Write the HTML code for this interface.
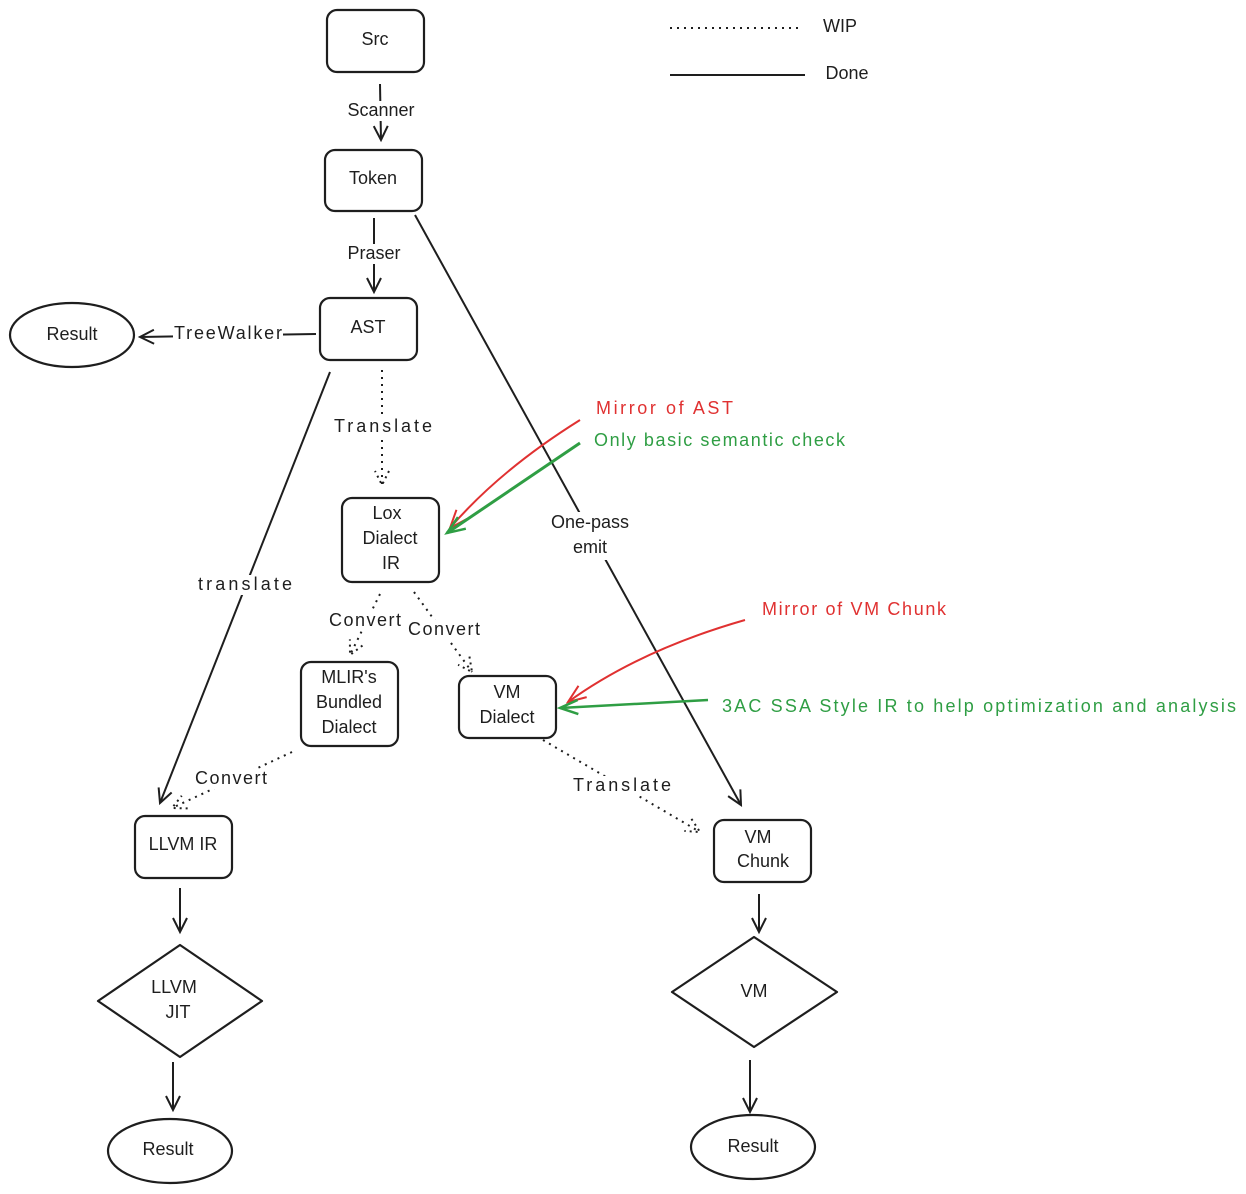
<!DOCTYPE html>
<html><head><meta charset="utf-8"><style>
html,body{margin:0;padding:0;background:#fff;}
svg{display:block;}
text{font-family:"Liberation Sans",sans-serif;font-size:18px;fill:#1e1e1e;text-anchor:middle;dominant-baseline:middle;}
.r{fill:#e03131;text-anchor:start;}
.g{fill:#2f9e44;text-anchor:start;}
.n{fill:none;stroke:#1e1e1e;stroke-width:2.2;}
.l{fill:none;stroke:#1e1e1e;stroke-width:2;}
.d{fill:none;stroke:#1e1e1e;stroke-width:2;stroke-dasharray:2 5;}
</style></head><body>
<svg width="1246" height="1194" viewBox="0 0 1246 1194" xmlns="http://www.w3.org/2000/svg">
<defs>
<marker id="a" markerWidth="20" markerHeight="20" refX="16" refY="10" orient="auto" markerUnits="userSpaceOnUse">
<path d="M2,3 L16,10 L2,17" fill="none" stroke="#1e1e1e" stroke-width="2"/></marker>
<marker id="ad" markerWidth="20" markerHeight="20" refX="16" refY="10" orient="auto" markerUnits="userSpaceOnUse">
<path d="M2,3 L16,10 L2,17" fill="none" stroke="#1e1e1e" stroke-width="2" stroke-dasharray="2 4"/></marker>
<marker id="ar" markerWidth="24" markerHeight="24" refX="20" refY="12" orient="auto" markerUnits="userSpaceOnUse">
<path d="M2,5 L20,12 L2,19" fill="none" stroke="#e03131" stroke-width="2"/></marker>
<marker id="ag" markerWidth="24" markerHeight="24" refX="20" refY="12" orient="auto" markerUnits="userSpaceOnUse">
<path d="M2,5 L20,12 L2,19" fill="none" stroke="#2f9e44" stroke-width="2.5"/></marker>
</defs>
<rect width="1246" height="1194" fill="#fff"/>

<line x1="670" y1="28" x2="800" y2="28" class="d"/>
<text x="840" y="27">WIP</text>
<line x1="670" y1="75" x2="805" y2="75" class="l"/>
<text x="847" y="74">Done</text>

<rect x="327" y="10" width="97" height="62" rx="10" class="n"/><text x="375" y="40">Src</text>
<rect x="325" y="150" width="97" height="61" rx="10" class="n"/><text x="373" y="179">Token</text>
<rect x="320" y="298" width="97" height="62" rx="10" class="n"/><text x="368" y="328">AST</text>
<ellipse cx="72" cy="335" rx="62" ry="32" class="n"/><text x="72" y="335">Result</text>
<rect x="342" y="498" width="97" height="84" rx="10" class="n"/>
<text x="387" y="514">Lox</text><text x="390" y="539">Dialect</text><text x="391" y="564">IR</text>
<rect x="301" y="662" width="97" height="84" rx="10" class="n"/>
<text x="349" y="678">MLIR's</text><text x="349" y="703">Bundled</text><text x="349" y="728">Dialect</text>
<rect x="459" y="676" width="97" height="62" rx="10" class="n"/>
<text x="507" y="693">VM</text><text x="507" y="718">Dialect</text>
<rect x="135" y="816" width="97" height="62" rx="10" class="n"/><text x="183" y="845">LLVM IR</text>
<rect x="714" y="820" width="97" height="62" rx="10" class="n"/>
<text x="758" y="838">VM</text><text x="763" y="862">Chunk</text>
<path d="M180,945 L262,1001 L180,1057 L98,1001 Z" class="n" stroke-linejoin="round"/>
<text x="174" y="988">LLVM</text><text x="178" y="1013">JIT</text>
<path d="M754,937 L837,992 L754,1047 L672,992 Z" class="n" stroke-linejoin="round"/>
<text x="754" y="992">VM</text>
<ellipse cx="170" cy="1151" rx="62" ry="32" class="n"/><text x="168" y="1150">Result</text>
<ellipse cx="753" cy="1147" rx="62" ry="32" class="n"/><text x="753" y="1147">Result</text>

<line x1="380" y1="84" x2="381" y2="140" class="l" marker-end="url(#a)"/>
<rect x="343" y="101" width="76" height="20" fill="#fff"/><text x="381" y="111">Scanner</text>
<line x1="374" y1="218" x2="374" y2="292" class="l" marker-end="url(#a)"/>
<rect x="340" y="244" width="68" height="20" fill="#fff"/><text x="374" y="254">Praser</text>
<line x1="316" y1="334" x2="140" y2="337" class="l" marker-end="url(#a)"/>
<rect x="173" y="324" width="110" height="20" fill="#fff"/><text x="228" y="334" textLength="108">TreeWalker</text>
<line x1="415" y1="215" x2="741" y2="805" class="l" marker-end="url(#a)"/>
<rect x="545" y="512" width="90" height="48" fill="#fff"/><text x="590" y="523">One-pass</text><text x="590" y="548">emit</text>
<line x1="330" y1="372" x2="160" y2="803" class="l" marker-end="url(#a)"/>
<rect x="197" y="575" width="96" height="20" fill="#fff"/><text x="245" y="585" textLength="94">translate</text>
<line x1="382" y1="370" x2="382" y2="485" class="d" marker-end="url(#ad)"/>
<rect x="333" y="417" width="100" height="20" fill="#fff"/><text x="383" y="427" textLength="98">Translate</text>
<line x1="380" y1="594" x2="350" y2="655" class="d" marker-end="url(#ad)"/>
<line x1="414" y1="592" x2="472" y2="672" class="d" marker-end="url(#ad)"/>
<rect x="328" y="611" width="74" height="20" fill="#fff"/><text x="365" y="621" textLength="72">Convert</text>
<rect x="406" y="620" width="76" height="20" fill="#fff"/><text x="444" y="630" textLength="72">Convert</text>
<line x1="292" y1="752" x2="172" y2="808" class="d" marker-end="url(#ad)"/>
<rect x="194" y="769" width="74" height="20" fill="#fff"/><text x="231" y="779" textLength="72">Convert</text>
<line x1="543" y1="740" x2="700" y2="832" class="d" marker-end="url(#ad)"/>
<rect x="572" y="776" width="100" height="20" fill="#fff"/><text x="622" y="786" textLength="98">Translate</text>
<line x1="180" y1="888" x2="180" y2="932" class="l" marker-end="url(#a)"/>
<line x1="173" y1="1062" x2="173" y2="1110" class="l" marker-end="url(#a)"/>
<line x1="759" y1="894" x2="759" y2="932" class="l" marker-end="url(#a)"/>
<line x1="750" y1="1060" x2="750" y2="1112" class="l" marker-end="url(#a)"/>

<path d="M580,420 Q500,470 450,528" fill="none" stroke="#e03131" stroke-width="2" marker-end="url(#ar)"/>
<line x1="580" y1="443" x2="447" y2="533" stroke="#2f9e44" stroke-width="3" marker-end="url(#ag)"/>
<text x="596" y="409" class="r" textLength="137">Mirror of AST</text>
<text x="594" y="441" class="g" textLength="251">Only basic semantic check</text>
<path d="M745,620 Q640,650 568,702" fill="none" stroke="#e03131" stroke-width="2" marker-end="url(#ar)"/>
<line x1="708" y1="700" x2="560" y2="708" stroke="#2f9e44" stroke-width="2.5" marker-end="url(#ag)"/>
<text x="762" y="610" class="r" textLength="184">Mirror of VM Chunk</text>
<text x="722" y="707" class="g" textLength="514">3AC SSA Style IR to help optimization and analysis</text>
</svg>
</body></html>
